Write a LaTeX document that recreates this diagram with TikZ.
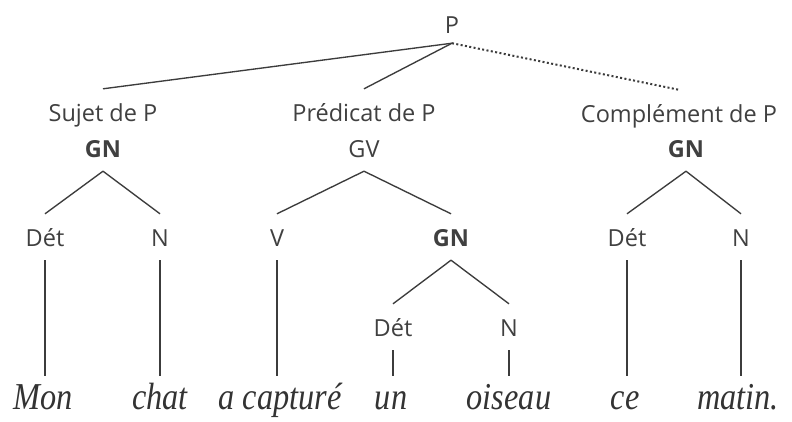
\documentclass[tikz,border=0pt]{standalone}
\usepackage{fontspec}
\usepackage{tikz}
\setsansfont{Open Sans}
\newfontfamily\wordfont[FakeStretch=0.85]{Liberation Serif}
\definecolor{LabGray}{HTML}{404040}
\definecolor{WordGray}{HTML}{333333}
\definecolor{LineGray}{HTML}{3C3C3C}
\tikzset{
  lab/.style={font=\sffamily\fontsize{23.5}{28}\selectfont, text=LabGray, inner sep=0pt, anchor=base, text height=32pt, text depth=14pt},
  head/.style={lab, font=\sffamily\bfseries\fontsize{23.5}{28}\selectfont},
  word/.style={font=\wordfont\itshape\fontsize{38}{44}\selectfont, text=WordGray, inner sep=0pt, anchor=base, text height=33pt, text depth=0pt},
  branch/.style={draw=LineGray, line width=1.35pt},
  dotbranch/.style={draw=LineGray, line width=2pt, dash pattern=on 2pt off 2.4pt}
}
\begin{document}
\begin{tikzpicture}[x=1pt, y=-1pt]
\useasboundingbox[fill=white] (0,0) rectangle (792,421);
\node[lab, text depth=10pt] (p) at (452,33) {P};
\node[lab] (sujet) at (103,121) {Sujet de P};
\node[lab] (pred) at (364,121) {Prédicat de P};
\node[lab] (compl) at (679,122) {Complément de P};
\node[head] (gna) at (103,157) {GN};
\node[lab] (gv) at (364,157) {GV};
\node[head] (gnc) at (686,157) {GN};
\node[lab] (deta) at (45,246) {Dét};
\node[lab] (na) at (160,246) {N};
\node[lab] (v) at (277,246) {V};
\node[head] (gnb) at (451,246) {GN};
\node[lab] (detc) at (627,246) {Dét};
\node[lab] (nc) at (741,246) {N};
\node[lab] (detb) at (393,336) {Dét};
\node[lab] (nb) at (509,336) {N};
\node[word] (mon) at (43,409) {Mon};
\node[word] (chat) at (160,409) {chat};
\node[word] (capt) at (280,409) {a capturé};
\node[word] (un) at (391,409) {un};
\node[word] (ois) at (509,409) {oiseau};
\node[word] (ce) at (625,409) {ce};
\node[word] (matin) at (738,409) {matin.};
\draw[branch] (p.south) -- (sujet.north);
\draw[branch] (p.south) -- (pred.north);
\draw[dotbranch] (p.south) -- (compl.north);
\draw[branch] (gna.south) -- (deta.north);
\draw[branch] (gna.south) -- (na.north);
\draw[branch] (gv.south) -- (v.north);
\draw[branch] (gv.south) -- (gnb.north);
\draw[branch] (gnb.south) -- (detb.north);
\draw[branch] (gnb.south) -- (nb.north);
\draw[branch] (gnc.south) -- (detc.north);
\draw[branch] (gnc.south) -- (nc.north);
\foreach \a/\b in {deta/mon, na/chat, v/capt, detb/un, nb/ois, detc/ce, nc/matin}
  \draw[branch] (\a.south) -- (\a.south |- \b.north);
\end{tikzpicture}
\end{document}
